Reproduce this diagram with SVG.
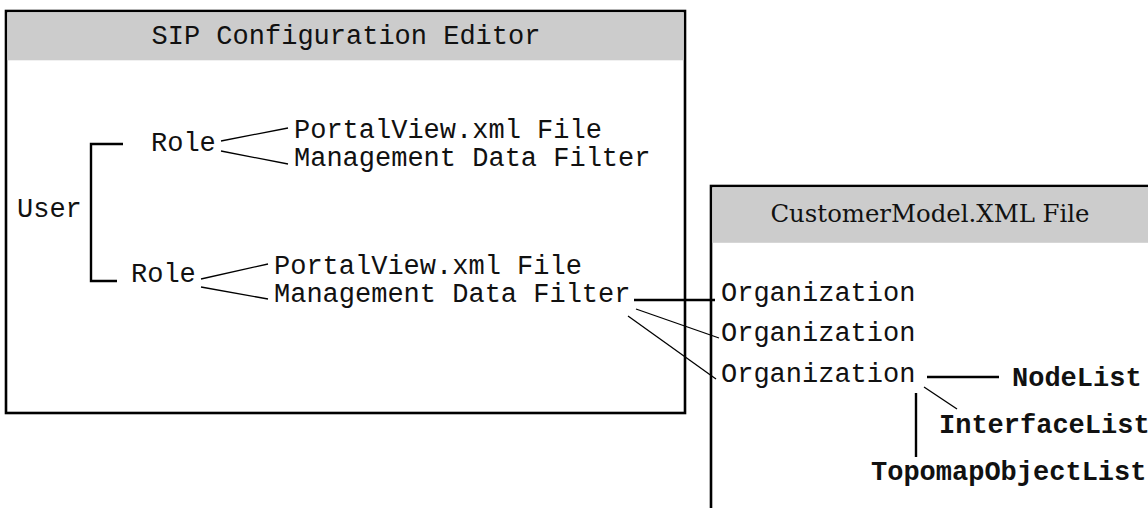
<svg xmlns="http://www.w3.org/2000/svg" width="1148" height="508" viewBox="0 0 1148 508">
<style>
.mono{font-family:"Liberation Mono","Courier New",monospace;font-size:27px;fill:#111}
.bold{font-weight:bold}
.serif{font-family:"DejaVu Serif","Liberation Serif",serif;font-size:24.4px;fill:#111}
.box{fill:#fff;stroke:#000;stroke-width:2.6}
.head{fill:#cccccc}
.thick{stroke:#000;stroke-width:2.4;fill:none}
.thin{stroke:#000;stroke-width:1.3;fill:none}
</style>
<rect width="1148" height="508" fill="#fff"/>
<g id="sip-editor">
<rect class="box" x="6" y="11" width="679" height="402"/>
<rect class="head" x="7.3" y="12.3" width="676.4" height="48"/>
<text class="mono" x="346" y="44" text-anchor="middle">SIP Configuration Editor</text>
</g>
<g id="customer-model">
<rect class="box" x="711" y="186" width="440" height="340"/>
<rect class="head" x="712.3" y="187.3" width="437" height="55.5"/>
<text class="serif" x="930" y="222" text-anchor="middle">CustomerModel.XML File</text>
</g>
<g id="user"><text class="mono" x="17" y="217">User</text></g>
<g id="role1"><text class="mono" x="151" y="151">Role</text></g>
<g id="portalview1"><text class="mono" x="294" y="138">PortalView.xml File</text></g>
<g id="mdf1"><text class="mono" x="294" y="166">Management Data Filter</text></g>
<g id="role2"><text class="mono" x="131" y="282">Role</text></g>
<g id="portalview2"><text class="mono" x="274" y="274">PortalView.xml File</text></g>
<g id="mdf2"><text class="mono" x="274" y="302">Management Data Filter</text></g>
<g id="org1"><text class="mono" x="721" y="301">Organization</text></g>
<g id="org2"><text class="mono" x="721" y="341">Organization</text></g>
<g id="org3"><text class="mono" x="721" y="382">Organization</text></g>
<g id="nodelist"><text class="mono bold" x="1012" y="386">NodeList</text></g>
<g id="interfacelist"><text class="mono bold" x="939" y="433">InterfaceList</text></g>
<g id="topomap"><text class="mono bold" x="871" y="480">TopomapObjectList</text></g>
<g id="connectors">
<path class="thick" d="M123,144 H91 V281 H117"/>
<line class="thin" x1="221" y1="141" x2="288" y2="128"/>
<line class="thin" x1="221" y1="151" x2="288" y2="164"/>
<line class="thin" x1="201" y1="279" x2="268" y2="264"/>
<line class="thin" x1="201" y1="287" x2="268" y2="299"/>
<line class="thick" x1="634" y1="300" x2="715" y2="300"/>
<line class="thin" x1="636" y1="309" x2="719" y2="338"/>
<line class="thin" x1="628" y1="316" x2="716" y2="379"/>
<line class="thick" x1="927" y1="377" x2="999" y2="377"/>
<line class="thin" x1="924" y1="387" x2="957" y2="409"/>
<line class="thick" x1="916" y1="393" x2="916" y2="457"/>
</g>
</svg>
